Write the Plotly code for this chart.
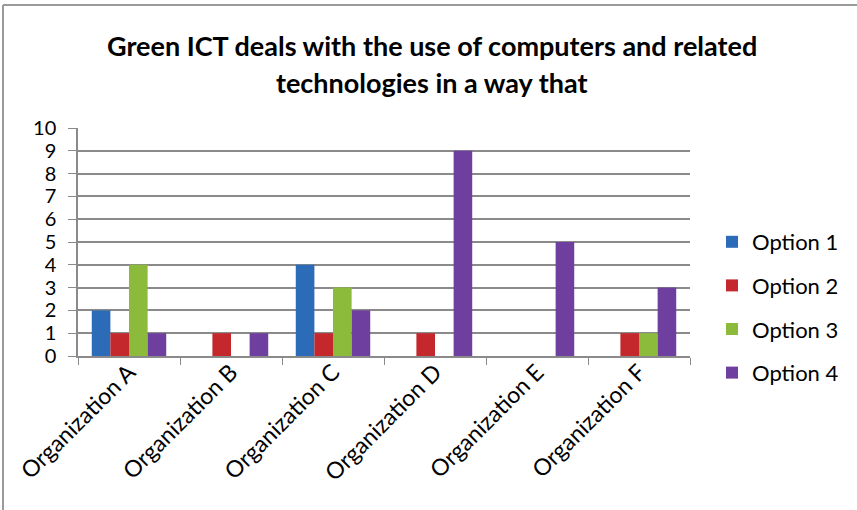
import plotly.graph_objects as go

# Survey responses per organization
organizations = ["Organization A", "Organization B", "Organization C",
                 "Organization D", "Organization E", "Organization F"]
option_names = ["Option 1", "Option 2", "Option 3", "Option 4"]
option_1 = [2, 0, 4, 0, 0, 0]
option_2 = [1, 1, 1, 1, 0, 1]
option_3 = [4, 0, 3, 0, 0, 1]
option_4 = [1, 1, 2, 9, 5, 3]
y_ticks = list(range(0, 11))

series = [option_1, option_2, option_3, option_4]
colors = ["#2c6bb7", "#c4282c", "#8cba3b", "#6e3f9e"]

FONT = "Lato, Carlito, 'Liberation Sans', sans-serif"

fig = go.Figure()
for name, vals, c in zip(option_names, series, colors):
    fig.add_trace(go.Bar(
        x=organizations, y=vals, name=name, legendgroup=name,
        marker=dict(color=c, line=dict(width=0)),
    ))

W, H = 857, 510
L, R, T, B = 78, 167, 128, 154
pw, ph = W - L - R, H - T - B


def px_x(p):
    return (p - L) / pw


def px_y(p):
    return (H - B - p) / ph


fig.update_layout(
    width=W, height=H,
    margin=dict(l=L, r=R, t=T, b=B),
    paper_bgcolor="white", plot_bgcolor="white",
    font=dict(family=FONT, color="#000000", size=20),
    barmode="group", bargap=0.27, bargroupgap=0,
    showlegend=True,
    legend=dict(x=px_x(712), y=px_y(221), xanchor="left", yanchor="top",
                font=dict(size=22), tracegroupgap=12,
                bgcolor="rgba(0,0,0,0)"),
    xaxis=dict(
        type="category", tickangle=-45, tickson="boundaries",
        ticks="outside", ticklen=7, tickcolor="#8a8a8a",
        showline=True, linecolor="#8a8a8a", linewidth=1.5,
        showgrid=False, tickfont=dict(size=23), ticklabelstandoff=-8,
        fixedrange=True,
    ),
    yaxis=dict(
        range=[0, 10], tickvals=y_ticks, ticks="outside", ticklen=8,
        tickcolor="#8a8a8a", showline=True, linecolor="#8a8a8a", linewidth=1.5,
        showgrid=True, gridcolor="#8a8a8a", gridwidth=1.5, zeroline=False,
        tickfont=dict(size=20), ticklabelstandoff=8, fixedrange=True,
    ),
    annotations=[
        dict(text="<b>Green ICT deals with the use of computers and related</b>",
             x=px_x(432), y=px_y(45), xref="paper", yref="paper",
             showarrow=False, font=dict(size=27), xanchor="center", yanchor="middle"),
        dict(text="<b>technologies in a way that</b>",
             x=px_x(432), y=px_y(83), xref="paper", yref="paper",
             showarrow=False, font=dict(size=27), xanchor="center", yanchor="middle"),
    ],
    shapes=[
        dict(type="line", xref="paper", yref="paper", x0=px_x(3), x1=px_x(3),
             y0=px_y(510), y1=px_y(5), line=dict(color="#9a9a9a", width=2)),
        dict(type="line", xref="paper", yref="paper", x0=px_x(3), x1=px_x(857),
             y0=px_y(5), y1=px_y(5), line=dict(color="#9a9a9a", width=2)),
    ],
)

fig.write_html("out.html")
